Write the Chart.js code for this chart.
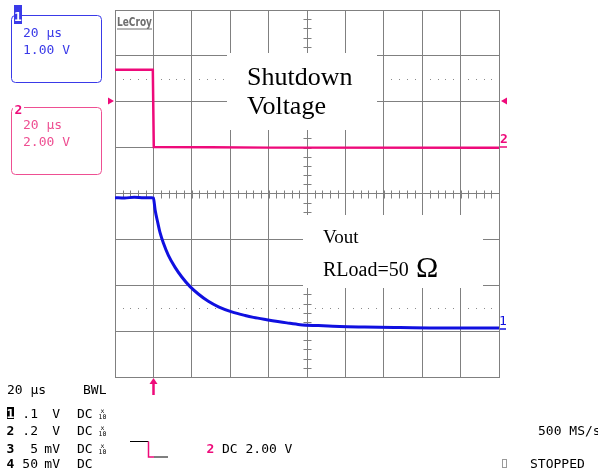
<!DOCTYPE html>
<html>
<head>
<meta charset="utf-8">
<script src="https://cdn.jsdelivr.net/npm/chart.js@4/dist/chart.umd.min.js"></script>
<style>
  body { margin: 0; background: #fff; }
  #wrap { position: relative; width: 598px; height: 474px; overflow: hidden; }
  #scope { position: absolute; left: 0; top: 0; }
  #overlay { position: absolute; left: 0; top: 0; pointer-events: none; }
  .mono { font-family: "DejaVu Sans Mono", monospace; font-size: 13px; }
  .serif { font-family: "Liberation Serif", "Times New Roman", serif; }
</style>
</head>
<body>
<div id="wrap">
  <canvas id="scope" width="598" height="474"></canvas>
  <svg id="overlay" width="598" height="474">
    <!-- channel 1 box -->
    <rect x="11.5" y="15.5" width="90" height="67" rx="4" fill="none" stroke="#3a3ae8" stroke-width="1"/>
    <rect x="14" y="5" width="8" height="19" fill="#3a3ae8"/>
    <text x="18" y="21" class="mono" font-size="16" font-weight="bold" fill="#fff" text-anchor="middle">1</text>
    <text x="23" y="36.5" class="mono" fill="#3a3ae8">20 µs</text>
    <text x="23" y="53.5" class="mono" fill="#3a3ae8">1.00 V</text>

    <!-- channel 2 box -->
    <rect x="11.5" y="107.5" width="90" height="67" rx="4" fill="none" stroke="#ee4f92" stroke-width="1"/>
    <rect x="13" y="101" width="11" height="14" fill="#fff"/>
    <text x="18.5" y="114" class="mono" font-size="16" font-weight="bold" fill="#ee0a7a" text-anchor="middle">2</text>
    <text x="23" y="129" class="mono" fill="#ee4f92">20 µs</text>
    <text x="23" y="145.5" class="mono" fill="#ee4f92">2.00 V</text>

    <!-- trigger level arrows -->
    <polygon points="108,97.5 114,101 108,104.5" fill="#ee0a7a"/>
    <polygon points="507,97.5 501,101 507,104.5" fill="#ee0a7a"/>

    <!-- ground markers -->
    <text x="504" y="143" class="mono" font-size="17" font-weight="bold" fill="#ee0a7a" text-anchor="middle">2</text>
    <line x1="500" y1="147" x2="507" y2="147" stroke="#ee0a7a" stroke-width="1.5"/>
    <text x="503" y="325" class="mono" font-size="17" fill="#1010e0" text-anchor="middle">1</text>
    <line x1="500" y1="329" x2="506" y2="329" stroke="#1010e0" stroke-width="1.5"/>

    <!-- LeCroy logo -->
    <text x="117" y="26" font-family="DejaVu Sans" font-size="12" font-weight="bold" fill="#6e6e6e" textLength="35" lengthAdjust="spacingAndGlyphs">LeCroy</text>
    <line x1="117" y1="29" x2="152" y2="29" stroke="#6e6e6e" stroke-width="1"/>

    <!-- annotation boxes -->
    <rect x="227" y="53" width="150" height="77" fill="#fff"/>
    <text x="247" y="85" class="serif" font-size="26" fill="#000">Shutdown</text>
    <text x="247" y="114" class="serif" font-size="26" fill="#000">Voltage</text>

    <rect x="303" y="215" width="180" height="73" fill="#fff"/>
    <text x="323" y="243" class="serif" font-size="19" fill="#000">Vout</text>
    <text x="323" y="276" class="serif" font-size="20" fill="#000">RLoad=50</text>
    <text x="416" y="277" class="serif" font-size="30" fill="#000">Ω</text>

    <!-- trigger position arrow -->
    <line x1="153.5" y1="382" x2="153.5" y2="395" stroke="#ee0a7a" stroke-width="2.5"/>
    <polygon points="149.5,384 153.5,378 157.5,384" fill="#ee0a7a"/>

    <!-- bottom info -->
    <text x="7" y="394" class="mono" fill="#000">20 µs</text>
    <text x="83" y="394" class="mono" fill="#000">BWL</text>

    <rect x="7" y="407" width="7" height="12" fill="#000"/>
    <text x="10.5" y="418" class="mono" font-weight="bold" fill="#fff" text-anchor="middle">1</text>
    <text x="38" y="418" class="mono" fill="#000" text-anchor="end">.1</text>
    <text x="60" y="418" class="mono" fill="#000" text-anchor="end">V</text>
    <text x="77" y="418" class="mono" fill="#000">DC</text>
    <text transform="translate(102.5,413) scale(0.5)" class="mono" font-size="12" fill="#000" text-anchor="middle">x</text>
    <text transform="translate(102.5,419) scale(0.5)" class="mono" font-size="12" fill="#000" text-anchor="middle">10</text>

    <text x="10.5" y="435" class="mono" font-size="15" font-weight="bold" fill="#000" text-anchor="middle">2</text>
    <text x="38" y="435" class="mono" fill="#000" text-anchor="end">.2</text>
    <text x="60" y="435" class="mono" fill="#000" text-anchor="end">V</text>
    <text x="77" y="435" class="mono" fill="#000">DC</text>
    <text transform="translate(102.5,430) scale(0.5)" class="mono" font-size="12" fill="#000" text-anchor="middle">x</text>
    <text transform="translate(102.5,436) scale(0.5)" class="mono" font-size="12" fill="#000" text-anchor="middle">10</text>

    <text x="10.5" y="453" class="mono" font-size="15" font-weight="bold" fill="#000" text-anchor="middle">3</text>
    <text x="38" y="453" class="mono" fill="#000" text-anchor="end">5</text>
    <text x="60" y="453" class="mono" fill="#000" text-anchor="end">mV</text>
    <text x="77" y="453" class="mono" fill="#000">DC</text>
    <text transform="translate(102.5,448) scale(0.5)" class="mono" font-size="12" fill="#000" text-anchor="middle">x</text>
    <text transform="translate(102.5,454) scale(0.5)" class="mono" font-size="12" fill="#000" text-anchor="middle">10</text>

    <text x="10.5" y="468" class="mono" font-size="15" font-weight="bold" fill="#000" text-anchor="middle">4</text>
    <text x="38" y="468" class="mono" fill="#000" text-anchor="end">50</text>
    <text x="60" y="468" class="mono" fill="#000" text-anchor="end">mV</text>
    <text x="77" y="468" class="mono" fill="#000">DC</text>

    <!-- trigger slope symbol -->
    <polyline points="130,441.5 148.5,441.5" fill="none" stroke="#000" stroke-width="1"/>
    <polyline points="148.5,441.5 148.5,457 154,457" fill="none" stroke="#ee0a7a" stroke-width="1.5"/>
    <polyline points="154,457 168,457" fill="none" stroke="#000" stroke-width="1"/>

    <text x="210.5" y="453" class="mono" font-size="15" font-weight="bold" fill="#ee0a7a" text-anchor="middle">2</text>
    <text x="222" y="453" class="mono" fill="#000">DC 2.00 V</text>

    <text x="538" y="435" class="mono" fill="#000">500 MS/s</text>
    <rect x="502.5" y="459.5" width="4" height="8" fill="none" stroke="#9a9a9a" stroke-width="1"/>
    <text x="530" y="468" class="mono" fill="#000">STOPPED</text>
  </svg>
</div>

<script>
// Scope settings
const timePerDiv = 20;        // µs/div
const timeStart = -20;        // µs at left edge (trigger one div in)
const timeEnd = 180;
const ch1VoltsPerDiv = 1.00;
const ch1OffsetDiv = -2.95;   // ground level of channel 1, in divisions
const ch2VoltsPerDiv = 2.00;
const ch2OffsetDiv = 1.0;     // ground level of channel 2, in divisions

// Channel 1 - Vout (blue)
const ch1Time  = [-20, -15, -10, -5, -1, 0, 0.9, 2.3, 3.5, 5.2, 7.8, 11.3, 14.8, 19.1, 23.4, 28.6, 33.9, 40.8, 47.8, 52.1, 59, 69.5, 76.4, 86, 97, 110, 128.5, 150, 180];
const ch1Volts = [2.86, 2.85, 2.87, 2.86, 2.86, 2.85, 2.59, 2.31, 2.09, 1.87, 1.60, 1.34, 1.13, 0.92, 0.76, 0.60, 0.48, 0.37, 0.29, 0.25, 0.20, 0.13, 0.09, 0.07, 0.05, 0.04, 0.03, 0.02, 0.02];

// Channel 2 - shutdown voltage (pink)
const ch2Time  = [-20, -0.3, 0.2, 30, 60, 180];
const ch2Volts = [3.39, 3.39, 0.03, 0.02, 0, 0];

function toPoints(xs, ys) {
    return xs.map((x, i) => ({ x: x, y: ys[i] }));
}

// minor ticks on the centre axes and the dotted reference rows
const scopeGrid = {
    id: 'scopeGrid',
    beforeDatasetsDraw(chart) {
        const ctx = chart.ctx;
        const xs = chart.scales.x;
        const ys = chart.scales.yGrid;
        const area = chart.chartArea;
        const cx = Math.round(xs.getPixelForValue((timeStart + timeEnd) / 2)) + 0.5;
        const cy = Math.round(ys.getPixelForValue(0)) + 0.5;
        ctx.save();
        ctx.strokeStyle = '#808080';
        ctx.lineWidth = 1;
        ctx.beginPath();
        for (let t = timeStart; t <= timeEnd; t += timePerDiv / 5) {
            const px = Math.round(xs.getPixelForValue(t)) + 0.5;
            ctx.moveTo(px, cy - 4);
            ctx.lineTo(px, cy + 4);
        }
        for (let d = -4; d <= 4; d += 0.2) {
            const py = Math.round(ys.getPixelForValue(d)) + 0.5;
            ctx.moveTo(cx - 4, py);
            ctx.lineTo(cx + 4, py);
        }
        ctx.stroke();

        ctx.fillStyle = '#8a8a8a';
        [2.5, -2.5].forEach(level => {
            const py = Math.round(ys.getPixelForValue(level));
            for (let t = timeStart; t < timeEnd; t += timePerDiv / 5) {
                if (Math.abs((t - timeStart) % timePerDiv) < 0.01) continue;
                const px = Math.round(xs.getPixelForValue(t));
                if (px <= area.left || px >= area.right) continue;
                ctx.fillRect(px, py, 1, 1);
            }
        });
        ctx.restore();
    }
};

const gridStyle = { color: '#808080', lineWidth: 1, drawTicks: false };

new Chart(document.getElementById('scope').getContext('2d'), {
    type: 'line',
    data: {
        datasets: [{
            label: 'Shutdown Voltage',
            data: toPoints(ch2Time, ch2Volts),
            yAxisID: 'y2',
            borderColor: '#ee0a7a',
            borderWidth: 2.5,
            pointRadius: 0,
            tension: 0
        }, {
            label: 'Vout',
            data: toPoints(ch1Time, ch1Volts),
            yAxisID: 'y1',
            borderColor: '#1010e0',
            borderWidth: 3,
            pointRadius: 0,
            cubicInterpolationMode: 'monotone'
        }]
    },
    options: {
        responsive: false,
        animation: false,
        devicePixelRatio: 1,
        layout: { padding: { left: 115, right: 99, top: 10, bottom: 97 } },
        plugins: { legend: { display: false }, tooltip: { enabled: false } },
        scales: {
            x: {
                type: 'linear',
                min: timeStart,
                max: timeEnd,
                ticks: { stepSize: timePerDiv, display: false },
                grid: gridStyle,
                border: { color: '#808080' }
            },
            yGrid: {
                type: 'linear',
                position: 'left',
                min: -4,
                max: 4,
                ticks: { stepSize: 1, display: false },
                grid: gridStyle,
                border: { color: '#808080' }
            },
            y1: {
                display: false,
                min: (-4 - ch1OffsetDiv) * ch1VoltsPerDiv,
                max: (4 - ch1OffsetDiv) * ch1VoltsPerDiv
            },
            y2: {
                display: false,
                min: (-4 - ch2OffsetDiv) * ch2VoltsPerDiv,
                max: (4 - ch2OffsetDiv) * ch2VoltsPerDiv
            }
        }
    },
    plugins: [scopeGrid]
});
</script>
</body>
</html>
